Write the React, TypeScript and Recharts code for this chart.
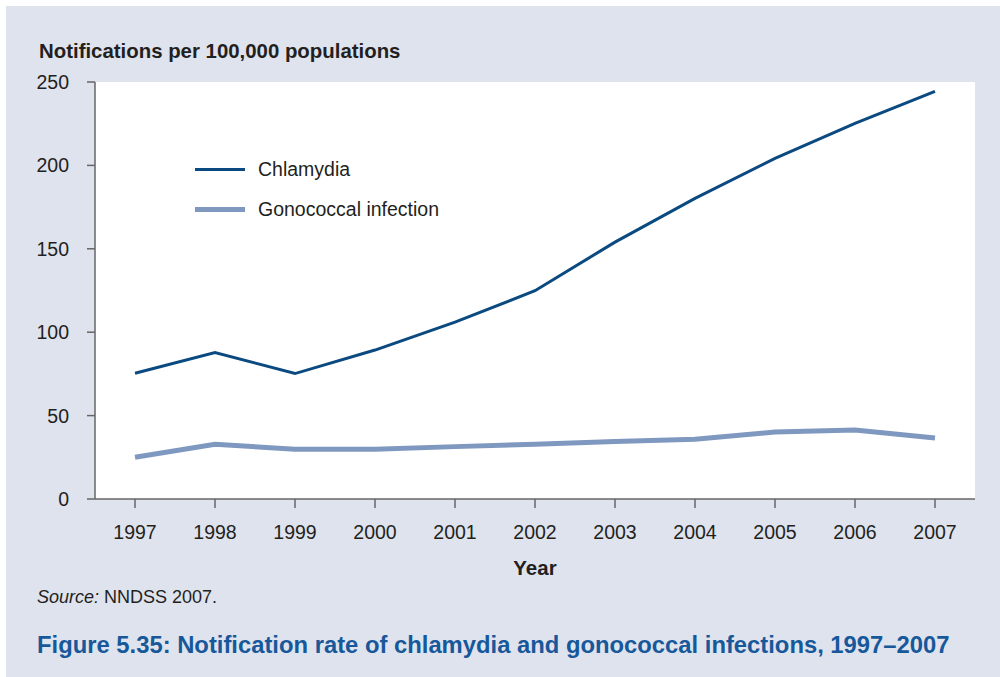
import React from 'react';
import { LineChart, Line, XAxis, YAxis, CartesianGrid, Legend } from 'recharts';

const years = ['1997', '1998', '1999', '2000', '2001', '2002', '2003', '2004', '2005', '2006', '2007'];
const chlamydia = [75.4, 87.8, 75.2, 89.3, 106, 124.9, 154, 180.2, 204.2, 225.2, 244.4];
const gonococcal = [25, 32.8, 29.8, 29.8, 31.4, 32.8, 34.4, 35.8, 40.2, 41.4, 36.6];
const yTicks = [0, 50, 100, 150, 200, 250];

const seriesNames = ['Chlamydia', 'Gonococcal infection'];
const seriesColors = ['#0b4a80', '#7f98c0'];
const seriesWidths = [3, 5];

const data = years.map((y, i) => ({ year: y, chlamydia: chlamydia[i], gonococcal: gonococcal[i] }));

const FONT = '"Liberation Sans", Arial, Helvetica, sans-serif';
const BG = '#dfe3ee';
const AXIS = '#666666';
const TEXT = '#231f20';

const renderLegend = () => (
  <div style={{ fontFamily: FONT }}>
    {seriesNames.map((n, i) => (
      <div key={n} style={{ display: 'flex', alignItems: 'center', height: 40 }}>
        <div style={{ width: 50, height: seriesWidths[i], background: seriesColors[i], marginRight: 13 }} />
        <span style={{ fontSize: 19.5, color: TEXT }}>{n}</span>
      </div>
    ))}
  </div>
);

export default function App() {
  return (
    <div style={{ position: 'absolute', left: 0, top: 0, width: 1000, height: 677, background: '#ffffff', fontFamily: FONT }}>
      <div style={{ position: 'absolute', left: 6, top: 6, width: 994, height: 671, background: BG }} />
      <div style={{ position: 'absolute', left: 0, top: 0 }}>
        <LineChart width={1000} height={677} data={data} margin={{ top: 82, right: 25, bottom: 148, left: 0 }}>
          <CartesianGrid fill="#ffffff" horizontal={false} vertical={false} stroke="none" />
          <XAxis
            dataKey="year"
            padding={{ left: 40, right: 40 }}
            height={30}
            tickSize={9}
            tickMargin={17}
            axisLine={{ stroke: AXIS, strokeWidth: 1.5 }}
            tickLine={{ stroke: AXIS, strokeWidth: 1.5 }}
            tick={{ fill: TEXT, fontSize: 19.5, fontFamily: FONT }}
            interval={0}
          />
          <YAxis
            width={95}
            domain={[0, 250]}
            ticks={yTicks}
            tickSize={8}
            tickMargin={18}
            axisLine={{ stroke: AXIS, strokeWidth: 1.5 }}
            tickLine={{ stroke: AXIS, strokeWidth: 1.5 }}
            tick={{ fill: TEXT, fontSize: 19.5, fontFamily: FONT }}
            interval={0}
          />
          <Legend
            layout="vertical"
            align="center"
            verticalAlign="middle"
            content={renderLegend}
            wrapperStyle={{ position: 'absolute', left: 195, top: 149, width: 300, height: 80 }}
          />
          <Line
            type="linear"
            dataKey="gonococcal"
            name={seriesNames[1]}
            stroke={seriesColors[1]}
            strokeWidth={seriesWidths[1]}
            dot={false}
            activeDot={false}
            isAnimationActive={false}
          />
          <Line
            type="linear"
            dataKey="chlamydia"
            name={seriesNames[0]}
            stroke={seriesColors[0]}
            strokeWidth={seriesWidths[0]}
            dot={false}
            activeDot={false}
            isAnimationActive={false}
          />
        </LineChart>
      </div>
      <div style={{ position: 'absolute', left: 39, top: 41, fontSize: 20.4, lineHeight: 1, fontWeight: 700, color: TEXT, whiteSpace: 'nowrap' }}>
        Notifications per 100,000 populations
      </div>
      <div style={{ position: 'absolute', left: 435, width: 200, textAlign: 'center', top: 558, fontSize: 20.5, lineHeight: 1, fontWeight: 700, color: TEXT }}>
        Year
      </div>
      <div style={{ position: 'absolute', left: 37, top: 588, fontSize: 18, lineHeight: 1, color: TEXT, whiteSpace: 'nowrap' }}>
        <i>Source:</i> NNDSS 2007.
      </div>
      <div style={{ position: 'absolute', left: 37, top: 633, fontSize: 23.8, lineHeight: 1, fontWeight: 700, color: '#17589a', whiteSpace: 'nowrap' }}>
        Figure 5.35: Notification rate of chlamydia and gonococcal infections, 1997–2007
      </div>
    </div>
  );
}
